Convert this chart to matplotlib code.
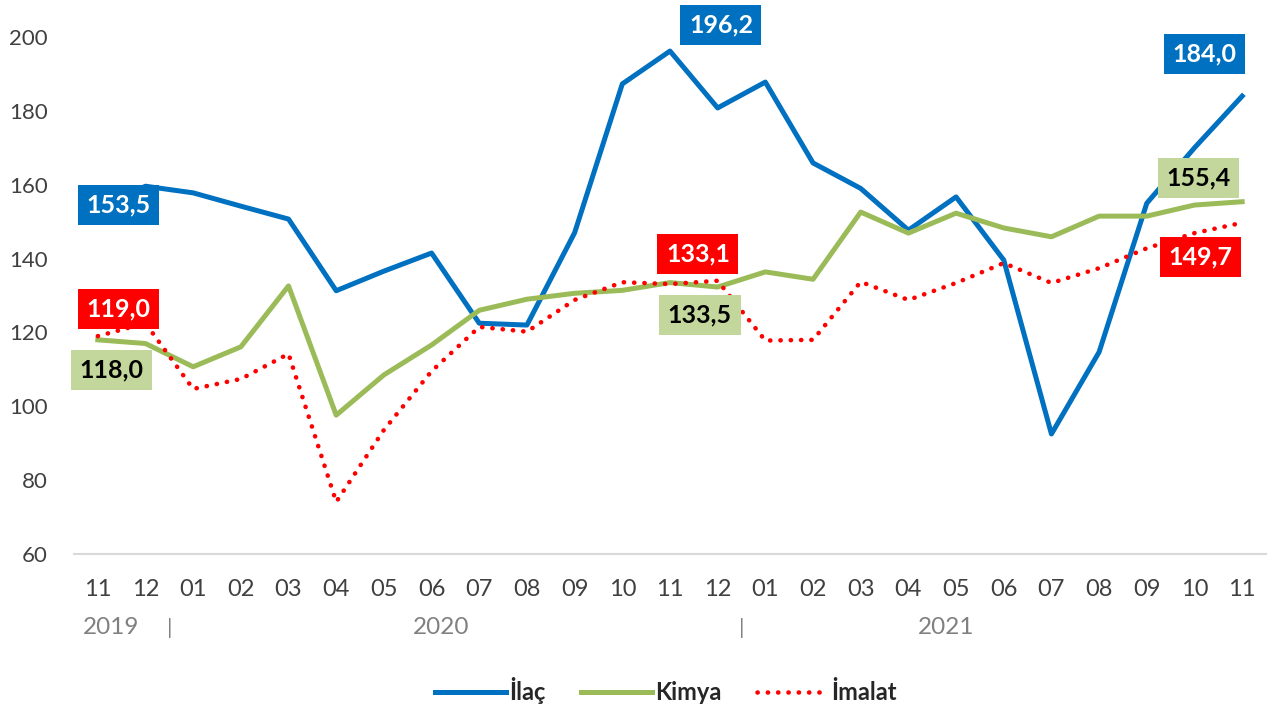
import numpy as np
import matplotlib.pyplot as plt
from matplotlib.transforms import blended_transform_factory

plt.rcParams['font.family'] = ['Lato', 'DejaVu Sans']

# aylar: 2019/11 - 2021/11
aylar = ['11', '12', '01', '02', '03', '04', '05', '06', '07', '08', '09', '10',
         '11', '12', '01', '02', '03', '04', '05', '06', '07', '08', '09', '10', '11']

ilac = [153.5, 159.6, 157.8, 154.2, 150.7, 131.3, 136.6, 141.5, 122.5, 122.0, 147.0, 187.3,
        196.2, 180.8, 187.8, 165.9, 159.0, 147.7, 156.7, 139.6, 92.5, 114.7, 155.0, 170.0, 184.0]
kimya = [118.0, 117.0, 110.7, 116.1, 132.6, 97.6, 108.5, 116.6, 126.0, 129.0, 130.6, 131.4,
         133.5, 132.3, 136.4, 134.4, 152.6, 146.9, 152.3, 148.3, 145.9, 151.5, 151.5, 154.5, 155.4]
imalat = [119.0, 122.5, 104.7, 107.4, 114.2, 74.1, 93.6, 109.5, 121.5, 120.2, 128.8, 133.6,
          133.1, 134.0, 117.8, 118.0, 133.7, 128.8, 133.4, 138.8, 133.4, 137.4, 142.8, 146.9, 149.7]

yillar = ['2019', '2020', '2021']
yil_x = [0.27, 7.2, 17.8]
ayrac_x = [1.5, 13.5]

mavi = '#0070c0'
yesil = '#9bbb59'
kirmizi = '#ff0000'

fig = plt.figure(figsize=(12.73, 7.08), dpi=100)
ax = fig.add_axes([0.0581, 0.2175, 0.9364, 0.7302])

x = np.arange(len(aylar))
ax.plot(x, ilac, color=mavi, lw=3.6, label='İlaç')
ax.plot(x, kimya, color=yesil, lw=3.6, label='Kimya')
ax.plot(x, imalat, color=kirmizi, lw=3.3, linestyle=(0, (0.05, 2.2)),
        dash_capstyle='round', label='İmalat')

ax.set_xlim(-0.5, len(aylar) - 0.5)
ax.set_ylim(60, 200)
ax.set_yticks(np.arange(60, 201, 20))
ax.set_xticks(x)
ax.set_xticklabels(aylar)
ax.tick_params(length=0, labelsize=16, labelcolor='#404040')
ax.tick_params(axis='x', pad=18, labelsize=17)
ax.tick_params(axis='y', pad=19)
for s in ['top', 'left', 'right']:
    ax.spines[s].set_visible(False)
ax.spines['bottom'].set_color('#d9d9d9')
ax.spines['bottom'].set_linewidth(1.5)

tr = blended_transform_factory(ax.transData, ax.transAxes)
for yx, yt in zip(yil_x, yillar):
    ax.text(yx, -0.143, yt, transform=tr, ha='center', va='center',
            fontsize=17.5, color='#808080')
for ax_x in ayrac_x:
    ax.text(ax_x, -0.143, '|', transform=tr, ha='center', va='center',
            fontsize=16, color='#808080')

# veri etiketleri
def etiket(i, seri, dx, dy, fc, tc):
    ax.annotate(f'{seri[i]:.1f}'.replace('.', ','), xy=(i, seri[i]),
                xytext=(dx, dy), textcoords='offset pixels',
                ha='center', va='center', fontsize=18, fontweight='bold', color=tc,
                bbox=dict(boxstyle='square,pad=0.34', fc=fc, ec='none'),
                annotation_clip=False)

etiket(0, ilac, 21, 4, mavi, 'white')
etiket(0, imalat, 21, 27, kirmizi, 'white')
etiket(0, kimya, 14, -30, '#c3d69b', 'black')
etiket(12, ilac, 51, 26, mavi, 'white')
etiket(12, imalat, 28, 30, kirmizi, 'white')
etiket(12, kimya, 30, -32, '#c3d69b', 'black')
etiket(24, ilac, -38, 42, mavi, 'white')
etiket(24, kimya, -44, 24, '#c3d69b', 'black')
etiket(24, imalat, -42, -34, kirmizi, 'white')

leg = fig.legend(loc='center', bbox_to_anchor=(0.523, 0.025), ncol=3, frameon=False,
                 handlelength=3.0, columnspacing=1.5, handletextpad=0.15,
                 prop={'size': 17, 'weight': 'bold'})
for t in leg.get_texts():
    t.set_color('#262626')

fig.savefig('out.png', dpi=100)
